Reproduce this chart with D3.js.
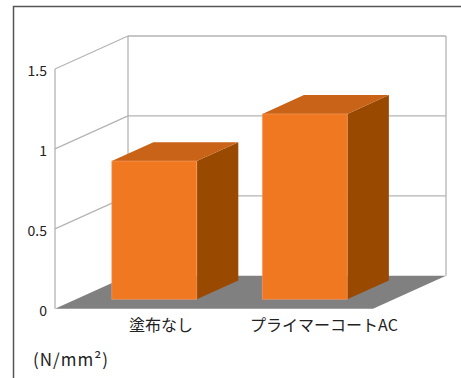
<!DOCTYPE html>
<html>
<head>
<meta charset="utf-8">
<script src="https://cdn.jsdelivr.net/npm/d3@7"></script>
<style>
  body { margin: 0; background: #fff; }
  svg text { font-family: "Noto Sans CJK JP", "Noto Sans", sans-serif; fill: #222; }
</style>
</head>
<body>
<svg id="chart"></svg>
<script>
// data
var categories = ["塗布なし", "プライマーコートAC"];
var values = [0.865, 1.16];
var tickValues = [0, 0.5, 1, 1.5];
var unitLabel = "(N/mm²)";

var svgWidth = 461, svgHeight = 378;
// oblique depth of the 3d box
var DX = 73, DY = 33;
var barFront = 0.285, barBack = 0.855;

var svg = d3.select("#chart")
  .attr("width", svgWidth)
  .attr("height", svgHeight);

var y = d3.scaleLinear().domain([0, 1.5]).range([308.7, 69]);
var x = d3.scaleBand().domain(categories).range([55, 373])
  .paddingInner(0.436).paddingOuter(0.274).align(0.436);
// labels sit a bit right of the bars
var xLabel = d3.scalePoint().domain(categories).range([161, 324]);

function pt(px, v, depth) {
  return [px + depth * DX, y(v) - depth * DY];
}
function poly(points) {
  return points.map(function (p) { return p.join(","); }).join(" ");
}

// outer frame (top + left only)
svg.append("path")
  .attr("d", "M13.5,378 L13.5,6.5 L461,6.5")
  .attr("fill", "none").attr("stroke", "#555").attr("stroke-width", 1.5);

var grid = svg.append("g").attr("stroke", "#b4b4b4").attr("stroke-width", 1.3).attr("fill", "none");
var left = 55, right = 373;
var maxTick = d3.max(tickValues);

// back wall horizontal lines
grid.selectAll(".back").data(tickValues.filter(function (d) { return d > 0; }))
  .enter().append("line")
  .attr("x1", left + DX).attr("x2", right + DX)
  .attr("y1", function (d) { return y(d) - DY; })
  .attr("y2", function (d) { return y(d) - DY; });
// side wall slanted lines
grid.selectAll(".side").data(tickValues.filter(function (d) { return d > 0; }))
  .enter().append("line")
  .attr("x1", left).attr("x2", left + DX)
  .attr("y1", function (d) { return y(d); })
  .attr("y2", function (d) { return y(d) - DY; });
// verticals
[[left, 0], [left, 1], [right, 1]].forEach(function (c) {
  grid.append("line")
    .attr("x1", c[0] + c[1] * DX).attr("x2", c[0] + c[1] * DX)
    .attr("y1", y(0) - c[1] * DY).attr("y2", y(maxTick) - c[1] * DY);
});

// floor
svg.append("polygon")
  .attr("points", poly([pt(left, 0, 0), pt(right, 0, 0), pt(right, 0, 1), pt(left, 0, 1)]))
  .attr("fill", "#808080");

// bars
var bars = svg.selectAll(".bar").data(values).enter().append("g").attr("class", "bar");
bars.each(function (d, i) {
  var g = d3.select(this);
  var a = x(categories[i]), b = a + x.bandwidth();
  g.append("polygon")
    .attr("points", poly([pt(b, 0, barFront), pt(b, 0, barBack), pt(b, d, barBack), pt(b, d, barFront)]))
    .attr("fill", "#9a4a00");
  g.append("polygon")
    .attr("points", poly([pt(a, d, barFront), pt(b, d, barFront), pt(b, d, barBack), pt(a, d, barBack)]))
    .attr("fill", "#c86318");
  g.append("polygon")
    .attr("points", poly([pt(a, 0, barFront), pt(b, 0, barFront), pt(b, d, barFront), pt(a, d, barFront)]))
    .attr("fill", "#f07820").attr("stroke", "#f6a06a").attr("stroke-width", 0.6);
});

// value axis
var yAxis = d3.axisLeft(y).tickValues(tickValues).tickSize(0).tickPadding(8)
  .tickFormat(function (d) { return String(d); });
var axisG = svg.append("g").attr("transform", "translate(" + left + ",2)").call(yAxis);
axisG.select(".domain").remove();
axisG.selectAll("text").style("font-size", "14px")
  .style("font-family", '"Noto Sans CJK JP", sans-serif').attr("fill", "#222");

// category labels
svg.selectAll(".cat").data(categories).enter().append("text")
  .attr("x", function (d) { return xLabel(d); })
  .attr("y", 331)
  .attr("text-anchor", "middle")
  .style("font-size", "16px")
  .text(function (d) { return d; });

svg.append("text")
  .attr("x", 33).attr("y", 366)
  .style("font-size", "17px")
  .style("letter-spacing", "1px")
  .text(unitLabel);
</script>
</body>
</html>
